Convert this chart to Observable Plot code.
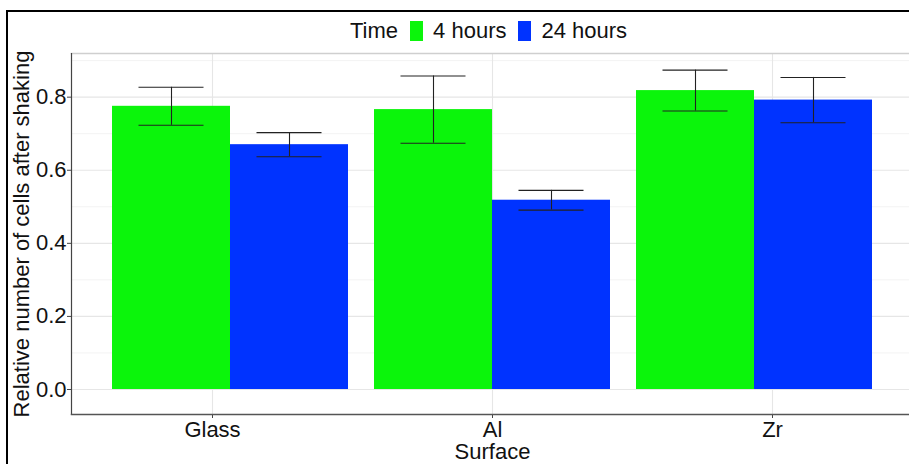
<!DOCTYPE html>
<html><head><meta charset="utf-8">
<script src="https://cdn.jsdelivr.net/npm/d3@7"></script>
<script src="https://cdn.jsdelivr.net/npm/@observablehq/plot@0.6"></script>
<style>
html,body{margin:0;padding:0;background:#fff;overflow:hidden;width:909px;height:464px;}
#wrap{position:relative;width:909px;height:464px;overflow:hidden;font-family:"Liberation Sans",Arial,sans-serif;}
.layer{position:absolute;left:0;top:0;width:930px;height:464px;}
.layer svg{max-width:none !important;}
#frame{position:absolute;left:6px;top:10px;width:1000px;height:1000px;border-left:2.5px solid #000;border-top:2.5px solid #000;pointer-events:none;}
#legend{position:absolute;top:19px;left:350px;height:24px;display:flex;align-items:center;font-size:22px;color:#111;white-space:nowrap;}
#legend .sw{display:inline-block;width:13px;height:20px;}
</style></head>
<body>
<div id="wrap">
  <div id="back" class="layer"></div>
  <div id="front" class="layer"></div>
  <div id="lines" class="layer"></div>
  <div id="legend"></div>
  <div id="frame"></div>
</div>
<script>
const surfaces = ["Glass", "Al", "Zr"];
const times = ["4 hours", "24 hours"];
const mean4h = [0.775, 0.766, 0.818];
const mean24h = [0.670, 0.518, 0.792];
const err4h = [0.052, 0.092, 0.056];
const err24h = [0.033, 0.027, 0.062];
const yTicks = [0, 0.2, 0.4, 0.6, 0.8];
const yMinor = [0.1, 0.3, 0.5, 0.7, 0.9];
const legendTitle = "Time";
const xLabel = "Surface";
const yLabel = "Relative number of cells after shaking";
const colors = ["#0bf50b", "#0033ff"];

const rows = surfaces.flatMap((s, i) => [
  {surface: s, time: times[0], mean: mean4h[i], err: err4h[i]},
  {surface: s, time: times[1], mean: mean24h[i], err: err24h[i]}
]);

// legend
const lg = document.getElementById("legend");
lg.innerHTML = `<span>${legendTitle}</span>` + times.map((t, i) =>
  `<span class="sw" style="background:${colors[i]};margin-left:12px"></span><span style="margin-left:10px">${t}</span>`
).join("");

const common = {
  width: 930, height: 464,
  marginLeft: 71, marginRight: 17, marginTop: 53, marginBottom: 50,
  style: {fontFamily: "Liberation Sans, Arial, sans-serif", fontSize: "22px", color: "#111", background: "transparent", maxWidth: "none"},
  y: {domain: [-0.0684, 0.9195], axis: null}
};
const bandPad = {paddingInner: 0.1, paddingOuter: 0.1508};

// background: grid, panel lines, axes
const back = Plot.plot({
  ...common,
  x: {domain: surfaces, ...bandPad, axis: null},
  marks: [
    Plot.gridY(yMinor, {stroke: "#f3f3f3", strokeOpacity: 1, strokeWidth: 1}),
    Plot.gridY(yTicks, {stroke: "#e6e6e6", strokeOpacity: 1, strokeWidth: 1.1}),
    Plot.gridX(surfaces, {stroke: "#e6e6e6", strokeOpacity: 1, strokeWidth: 1.1}),
    Plot.frame({anchor: "top", stroke: "#cfcfcf", strokeWidth: 1.5}),
    Plot.axisY(yTicks, {tickSize: 4, tickPadding: 1, tickFormat: d3.format(".1f"), stroke: "#444",
      label: yLabel, labelAnchor: "center", labelOffset: 58, labelArrow: "none"}),
    Plot.axisX(surfaces, {anchor: "bottom", tickSize: 4, tickPadding: 3, stroke: "#444",
      label: xLabel, labelAnchor: "center", labelOffset: 44, labelArrow: "none"})
  ]
});
document.getElementById("back").appendChild(back);

// front: bars and error bars
const front = Plot.plot({
  ...common,
  fx: {domain: surfaces, ...bandPad, axis: null, label: null},
  x: {domain: times, padding: 0, axis: null},
  color: {domain: times, range: colors},
  marks: [
    Plot.barY(rows, {fx: "surface", x: "time", y: "mean", fill: "time"}),
    Plot.ruleX(rows, {fx: "surface", x: "time", y1: d => d.mean - d.err, y2: d => d.mean + d.err, stroke: "#222", strokeWidth: 1.1}),
    Plot.tickY(rows, {fx: "surface", x: "time", y: d => d.mean - d.err, insetLeft: 26.5, insetRight: 26.5, stroke: "#222", strokeWidth: 1.1}),
    Plot.tickY(rows, {fx: "surface", x: "time", y: d => d.mean + d.err, insetLeft: 26.5, insetRight: 26.5, stroke: "#222", strokeWidth: 1.1})
  ]
});
document.getElementById("front").appendChild(front);

// panel axis lines drawn above bars
const lines = Plot.plot({
  ...common,
  x: {domain: surfaces, ...bandPad, axis: null},
  marks: [
    Plot.frame({anchor: "left", stroke: "#444", strokeWidth: 1.2}),
    Plot.frame({anchor: "bottom", stroke: "#555", strokeWidth: 1.4})
  ]
});
document.getElementById("lines").appendChild(lines);
</script>
</body></html>
